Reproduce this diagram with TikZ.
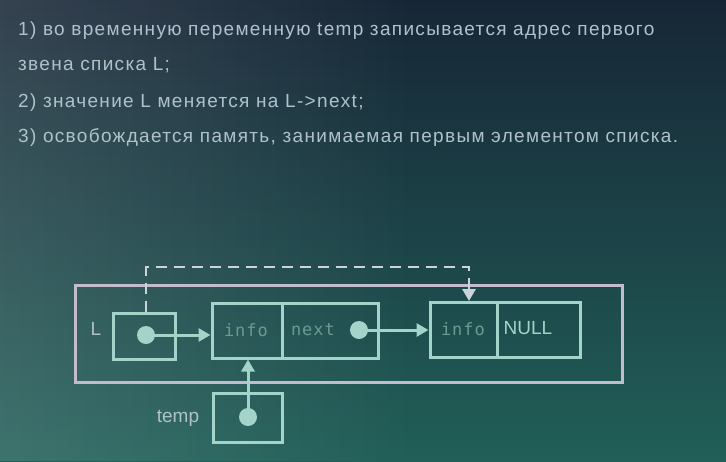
\documentclass[tikz,border=0pt]{standalone}
\usepackage{fontspec}
\setmainfont{Liberation Sans}
\newfontfamily\slidefont{Liberation Sans}[LetterSpace=7]
\newfontfamily\monof{DejaVu Sans Mono}[LetterSpace=6]
\usetikzlibrary{arrows.meta,fadings}
\definecolor{bgtop}{HTML}{172636}
\definecolor{bgmid}{HTML}{1C3545}
\definecolor{bgbot}{HTML}{215F58}
\definecolor{txt}{HTML}{AFC2CB}
\definecolor{boxc}{HTML}{A3D3C9}
\definecolor{outerc}{HTML}{C2BCCD}
\definecolor{dimc}{HTML}{6A9C92}
\definecolor{dashc}{HTML}{CDD3DA}
\begin{document}
\begin{tikzpicture}[x=1pt,y=-1pt,
  line/.style={anchor=base west, inner sep=0pt, text=txt, font=\slidefont\fontsize{19}{22}\selectfont},
  cell/.style={draw=boxc, line width=3pt, inner sep=0pt, minimum height=55pt},
  ptrbox/.style={draw=boxc, line width=3pt, inner sep=0pt},
  dot/.style={circle, fill=boxc, inner sep=0pt, minimum size=18pt},
  arr/.style={draw=boxc, line width=3pt, -{Triangle[length=12pt,width=13pt]}},
  dasharr/.style={draw=dashc, line width=2.8pt, dash pattern=on 11pt off 7pt, -{Triangle[length=12pt,width=13pt]}},
  dimtext/.style={text=dimc, font=\monof\fontsize{17}{20}\selectfont},
  lbl/.style={text=txt, font=\fontsize{19}{22}\selectfont}]
\useasboundingbox (0,0) rectangle (726,461);
\shade[top color=bgtop, middle color=bgmid, bottom color=bgbot] (0,0) rectangle (726,461);
\fill[white, fill opacity=0.13, path fading=east] (0,0) rectangle (420,461);

\node[line] (t1) at (18,35) {1) во временную переменную temp записывается адрес первого};
\node[line] (t2) at (18,70) {звена списка L;};
\node[line] (t3) at (18,107) {2) значение L меняется на L->next;};
\node[line] (t4) at (18,142) {3) освобождается память, занимаемая первым элементом списка.};

\node[draw=outerc, line width=3pt, minimum width=547pt, minimum height=97pt, inner sep=0pt] (outer) at (348.5,333.5) {};
\node[ptrbox, minimum width=62pt, minimum height=46pt] (Lbox) at (144,336) {};
\node[lbl] (Llbl) at (96,329) {L};
\node[dot] (Ldot) at (146,335) {};

\node[cell, minimum width=70pt] (c1info) at (247,330.5) {};
\node[cell, minimum width=96pt] (c1next) at (330,330.5) {};
\node[dimtext] at (246,330) {info};
\node[dimtext] at (313,330) {next};
\node[dot] (ndot) at (359,330) {};

\node[cell, minimum width=67pt] (c2info) at (463.5,330) {};
\node[cell, minimum width=83pt] (c2null) at (538.5,330) {};
\node[dimtext] at (463,329) {info};
\node[text=boxc, font=\fontsize{19}{22}\selectfont] at (528,328) {NULL};

\node[ptrbox, minimum width=69pt, minimum height=49pt] (tbox) at (247.5,417.5) {};
\node[lbl] (tlbl) at (178,418) {temp};
\node[dot] (tdot) at (248,417) {};

\draw[arr] (Ldot.center) -- (Ldot -| c1info.west);
\draw[arr] (ndot.center) -- (ndot -| c2info.west);
\draw[arr] (tdot.center) -- (tdot |- c1info.south);
\coordinate (dtop) at (469,267);
\draw[dasharr] (Lbox.north -| Ldot) |- (dtop) -- (dtop |- c2info.north);
\end{tikzpicture}
\end{document}
